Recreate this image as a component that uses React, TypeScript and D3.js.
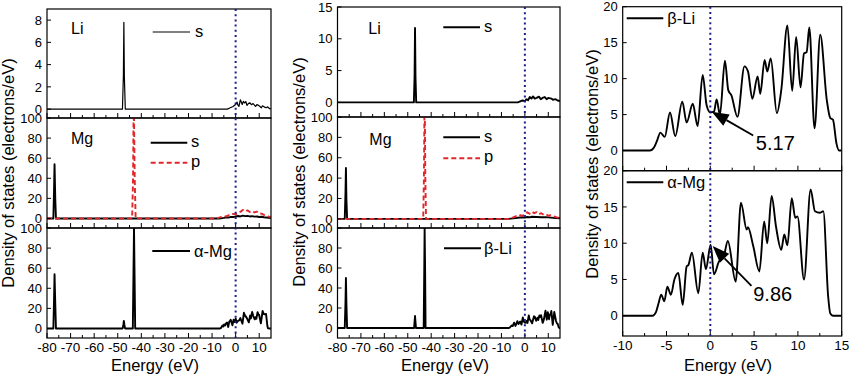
import React from 'react';
import * as d3 from 'd3';

type Pt = [number, number];

const FONT = "'Liberation Sans', Arial, Helvetica, sans-serif";
const RED = '#e3262b';
const NAVY = '#1c1c8a';

// ---------- tick values ----------
const wideTicks = [-80, -70, -60, -50, -40, -30, -20, -10, 0, 10];
const wideMinor = [-75, -65, -55, -45, -35, -25, -15, -5, 5];
const narrowTicks = [-10, -5, 0, 5, 10, 15];
const narrowMinor = [-7.5, -2.5, 2.5, 7.5, 12.5];
const liTicksLeft = [0, 2, 4, 6, 8];
const liTicksMid = [0, 5, 10, 15];
const bigTicks = [0, 20, 40, 60, 80, 100];
const dosTicks = [0, 5, 10, 15, 20];

// ---------- smoothed total DOS (right panels, also valence band of bottom-left/middle) ----------
const betaLiDOS: Pt[] = [
  [-10, 0], [-6.9, 0], [-6.5, 0.3], [-6.1, 1.3], [-5.7, 2.5], [-5.2, 1.9], [-4.6, 5.3], [-4.0, 2.0],
  [-3.2, 6.8], [-2.7, 3.9], [-2.0, 6.5], [-1.45, 3.4], [-0.87, 10.5], [-0.42, 6.3], [0, 5.3],
  [0.42, 5.4], [0.72, 7.1], [1.1, 5.0], [1.67, 12.5], [2.05, 8.4], [2.4, 7.7], [3.1, 4.7],
  [3.9, 11.7], [4.3, 11.0], [4.8, 7.2], [5.4, 10.3], [5.7, 7.9], [6.2, 12.6], [6.5, 11.0],
  [6.9, 12.8], [7.6, 5.2], [8.1, 8.4], [8.8, 17.4], [9.35, 8.3], [9.8, 15.8], [10.3, 8.8],
  [10.7, 13.5], [11.0, 13.7], [11.3, 17.1], [11.9, 3.1], [12.55, 16.1], [13.3, 7.0], [13.7, 4.5],
  [14.0, 4.3], [14.4, 1.0], [14.7, 0], [15, 0],
];

const alphaMgDOS: Pt[] = [
  [-10, 0], [-6.6, 0], [-6.2, 0.5], [-5.9, 1.75], [-5.6, 2.9], [-5.25, 2.0], [-4.9, 4.0], [-4.5, 2.9],
  [-4.1, 5.0], [-3.65, 5.9], [-3.15, 1.5], [-2.7, 6.8], [-2.5, 7.0], [-2.1, 8.7], [-1.37, 3.1],
  [-0.87, 8.7], [-0.5, 6.4], [0.04, 9.8], [0.42, 5.7], [1.0, 7.5], [1.5, 8.0], [2.0, 10.3],
  [2.9, 4.7], [3.5, 15.6], [4.15, 11.9], [4.3, 12.2], [4.9, 9.6], [5.6, 6.1], [6.15, 13.0],
  [6.5, 10.0], [7.0, 16.5], [7.5, 12.3], [8.1, 9.1], [8.45, 11.2], [8.8, 9.7], [9.3, 16.2],
  [9.7, 13.5], [9.95, 13.7], [10.7, 5.0], [11.45, 17.4], [11.95, 14.4], [12.5, 14.2],
  [12.9, 14.4], [13.45, 2.7], [13.7, 0.3], [14, 0], [15, 0],
];

// ---------- left column (alpha-Mg) ----------
const leftLiS: Pt[] = [
  [-80, 0], [-48.0, 0], [-47.6, 3], [-47.4, 7.8], [-47.2, 3], [-46.8, 0], [-3.5, 0], [-2.5, 0.1],
  [-1.1, 0.24], [0, 0.42], [0.6, 0.63], [1.0, 0.35], [1.4, 0.24], [2.0, 0.84], [2.8, 0.42],
  [3.3, 0.7], [3.8, 0.55], [4.3, 0.68], [4.8, 0.33], [5.4, 0.5], [6.0, 0.57], [6.7, 0.4],
  [7.4, 0.5], [8.0, 0.35], [8.5, 0.24], [9.0, 0.4], [9.5, 0.36], [10.2, 0.25], [10.9, 0.12],
  [11.4, 0.3], [11.9, 0.24], [12.5, 0.15], [13.0, 0.12], [13.6, 0.2], [14.4, 0.03], [15, 0.05],
];
const leftMgS: Pt[] = [
  [-80, 0], [-77.3, 0], [-77.0, 30], [-76.8, 54], [-76.5, 20], [-76.2, 0], [-7, 0], [-5, 0.6],
  [-4, 1.2], [-3, 0.9], [-2, 1.6], [-1, 1.4], [0, 2.1], [1, 2.4], [2, 2.0], [3, 2.8], [4, 2.3],
  [5, 2.6], [6, 2.0], [7, 2.3], [8, 1.8], [9, 2.0], [10, 1.5], [11, 1.7], [12, 1.2], [13, 0.9],
  [14, 0.6], [15, 0.4],
];
const leftMgP: Pt[] = [
  [-80, 0], [-43.9, 0], [-43.5, 40], [-43.3, 100], [-43.1, 100], [-42.8, 40], [-42.4, 0], [-8, 0],
  [-7, 0.8], [-6, 1.5], [-5, 2.4], [-4, 2.0], [-3, 3.2], [-2, 3.8], [-1, 4.5], [0, 4.0], [1, 5.6],
  [2, 6.5], [3, 8.5], [4, 7.0], [5, 8.0], [6, 6.5], [7, 7.5], [8, 6.0], [9, 6.8], [10, 5.0],
  [11, 4.8], [12, 3.5], [13, 3.0], [14, 1.8], [15, 1.2],
];
const leftTotalCore: Pt[] = [
  [-80, 0], [-77.3, 0], [-77.0, 30], [-76.8, 54], [-76.5, 25], [-76.2, 0], [-47.9, 0],
  [-47.6, 4], [-47.4, 7.5], [-47.2, 4], [-46.9, 0], [-43.6, 0], [-43.3, 60], [-43.1, 100],
  [-42.9, 60], [-42.6, 0],
];

// ---------- middle column (beta-Li) ----------
const midLiS: Pt[] = [
  [-80, 0], [-47.4, 0], [-47.1, 4], [-46.9, 11.7], [-46.7, 4], [-46.4, 0], [-3, 0], [-2, 0.15],
  [-1, 0.3], [0, 0.2], [0.7, 0.5], [1.4, 0.35], [2.1, 0.84], [2.8, 0.6], [3.5, 0.94], [4.2, 0.6],
  [5, 0.7], [6, 0.9], [6.8, 0.5], [7.5, 0.7], [8.5, 0.84], [9.3, 0.5], [10, 0.7], [11.3, 0.6],
  [12, 0.4], [13, 0.5], [14, 0.3], [15, 0.2],
];
const midMgS: Pt[] = [
  [-80, 0], [-76.9, 0], [-76.6, 25], [-76.4, 50], [-76.2, 20], [-75.9, 0], [-7, 0], [-5, 0.5],
  [-3, 1.0], [-1, 1.5], [0, 1.2], [1, 1.8], [2, 1.5], [3, 2.0], [5, 1.8], [7, 1.5], [9, 1.7],
  [11, 1.2], [13, 0.8], [15, 0.5],
];
const midMgP: Pt[] = [
  [-80, 0], [-43.4, 0], [-43.1, 40], [-42.9, 100], [-42.7, 100], [-42.5, 40], [-42.2, 0], [-7, 0],
  [-6, 1], [-5, 1.5], [-4, 2.5], [-3, 2], [-2, 3.5], [-1, 3], [0, 4.5], [1, 6.5], [2, 5], [3, 7],
  [4, 5.5], [5, 6.5], [6, 4.5], [7, 5.5], [8, 4], [9, 4.5], [10, 3], [11, 3.5], [12, 2.5],
  [13, 2], [14, 1.2], [15, 0.8],
];
const midTotalCore: Pt[] = [
  [-80, 0], [-76.9, 0], [-76.6, 25], [-76.4, 50], [-76.2, 25], [-75.9, 0], [-47.3, 0],
  [-47.1, 6], [-46.9, 12], [-46.7, 6], [-46.5, 0], [-43.2, 0], [-42.95, 60], [-42.8, 100],
  [-42.6, 60], [-42.4, 0],
];

// ---------- annotations ----------
const betaLiNote = { label: '5.17', tip: [0.16, 5.4] as Pt, tail: [4.9, 2.1] as Pt, text: [5.2, 0.05] as Pt };
const alphaMgNote = { label: '9.86', tip: [0.27, 9.6] as Pt, tail: [4.7, 4.1] as Pt, text: [4.9, 2.0] as Pt };

interface Series { data: Pt[]; color: string; width: number; dash?: string }

interface PanelProps {
  id: string; x0: number; x1: number; top: number; bottom: number;
  xDomain: [number, number]; yDomain: [number, number];
  xTicks: number[]; xMinor: number[]; yTicks: number[];
  showXLabels: boolean; series: Series[]; curve: d3.CurveFactory;
}

function Panel(p: PanelProps) {
  const x = d3.scaleLinear().domain(p.xDomain).range([p.x0, p.x1]);
  const y = d3.scaleLinear().domain(p.yDomain).range([p.bottom, p.top]);
  const line = d3.line<Pt>().x(d => x(d[0])).y(d => y(d[1])).curve(p.curve);
  return (
    <g>
      <clipPath id={p.id}>
        <rect x={p.x0} y={p.top} width={p.x1 - p.x0} height={p.bottom - p.top} />
      </clipPath>
      <g clipPath={`url(#${p.id})`}>
        {p.series.map((s, i) => (
          <path key={i} d={line(s.data) || ''} fill="none" stroke={s.color} strokeWidth={s.width}
            strokeDasharray={s.dash} strokeLinejoin="round" />
        ))}
      </g>
      <rect x={p.x0} y={p.top} width={p.x1 - p.x0} height={p.bottom - p.top} fill="none" stroke="#000" strokeWidth={1.2} />
      {p.xTicks.map(t => (
        <line key={'xt' + t} x1={x(t)} x2={x(t)} y1={p.bottom} y2={p.bottom - 5} stroke="#000" strokeWidth={1} />
      ))}
      {p.xMinor.map(t => (
        <line key={'xm' + t} x1={x(t)} x2={x(t)} y1={p.bottom} y2={p.bottom - 3} stroke="#000" strokeWidth={1} />
      ))}
      {p.yTicks.map(t => (
        <line key={'yt' + t} x1={p.x0} x2={p.x0 + 4} y1={y(t)} y2={y(t)} stroke="#000" strokeWidth={1} />
      ))}
      {p.yTicks.map(t => (
        <text key={'yl' + t} x={p.x0 - 5} y={y(t)} dy="0.36em" textAnchor="end" fontSize={13}>{String(t)}</text>
      ))}
      {p.showXLabels && p.xTicks.map(t => (
        <text key={'xl' + t} x={x(t)} y={p.bottom + 14} textAnchor="middle" fontSize={13.5}>{String(t)}</text>
      ))}
    </g>
  );
}

function Arrow({ from, to }: { from: [number, number]; to: [number, number] }) {
  const dx = to[0] - from[0], dy = to[1] - from[1];
  const len = Math.hypot(dx, dy);
  const ux = dx / len, uy = dy / len;
  const hl = 17, hw = 6.5;
  const bx = to[0] - ux * hl, by = to[1] - uy * hl;
  const pts = [
    [to[0], to[1]],
    [bx - uy * hw, by + ux * hw],
    [bx + uy * hw, by - ux * hw],
  ].map(q => q.join(',')).join(' ');
  return (
    <g>
      <line x1={from[0]} y1={from[1]} x2={bx} y2={by} stroke="#000" strokeWidth={1.8} />
      <polygon points={pts} fill="#000" />
    </g>
  );
}

function LegendLine({ x1, x2, y, color = '#000', width = 2, dash }: any) {
  return <line x1={x1} x2={x2} y1={y} y2={y} stroke={color} strokeWidth={width} strokeDasharray={dash} />;
}

export default function App() {
  const L = { x0: 47, x1: 271, rows: [[9, 118], [118, 228], [228, 338]] };
  const M = { x0: 337.5, x1: 560, rows: [[7, 117], [117, 228], [228, 338]] };
  const R = { x0: 622.7, x1: 841.7, rows: [[6.7, 170.7], [170.7, 336]] };
  const wide: [number, number] = [-80, 15];
  const narrow: [number, number] = [-10, 15];
  const lin = d3.curveLinear;
  const smooth = d3.curveMonotoneX;

  const xL = d3.scaleLinear().domain(wide).range([L.x0, L.x1]);
  const xM = d3.scaleLinear().domain(wide).range([M.x0, M.x1]);
  const xR = d3.scaleLinear().domain(narrow).range([R.x0, R.x1]);
  const yRtop = d3.scaleLinear().domain([-2.8, 20]).range([R.rows[0][1], R.rows[0][0]]);
  const yRbot = d3.scaleLinear().domain([-2.8, 20]).range([R.rows[1][1], R.rows[1][0]]);

  const notes = [
    { n: betaLiNote, y: yRtop },
    { n: alphaMgNote, y: yRbot },
  ];
  const dots = { stroke: NAVY, strokeWidth: 2, strokeDasharray: '2,3.2' };

  return (
    <svg width={850} height={378} style={{ position: 'absolute', left: 0, top: 0, background: '#fff' }}
      fontFamily={FONT} fill="#000">
      <rect x={0} y={0} width={850} height={378} fill="#fff" />

      {/* ---------- left column ---------- */}
      <Panel id="l0" x0={L.x0} x1={L.x1} top={L.rows[0][0]} bottom={L.rows[0][1]} xDomain={wide}
        yDomain={[-0.8, 9]} xTicks={wideTicks} xMinor={wideMinor} yTicks={liTicksLeft} showXLabels={false}
        curve={lin} series={[{ data: leftLiS, color: '#000', width: 1.2 }]} />
      <Panel id="l1" x0={L.x0} x1={L.x1} top={L.rows[1][0]} bottom={L.rows[1][1]} xDomain={wide}
        yDomain={[-9.5, 100]} xTicks={wideTicks} xMinor={wideMinor} yTicks={bigTicks} showXLabels={false}
        curve={lin} series={[
          { data: leftMgS, color: '#000', width: 1.9 },
          { data: leftMgP, color: RED, width: 1.9, dash: '5,3' },
        ]} />
      <Panel id="l2" x0={L.x0} x1={L.x1} top={L.rows[2][0]} bottom={L.rows[2][1]} xDomain={wide}
        yDomain={[-9.5, 100]} xTicks={wideTicks} xMinor={wideMinor} yTicks={bigTicks} showXLabels={true}
        curve={lin} series={[{ data: leftTotalCore.concat(alphaMgDOS), color: '#000', width: 1.9 }]} />
      <line x1={xL(0)} x2={xL(0)} y1={L.rows[0][0]} y2={L.rows[2][1]} {...dots} />

      <text x={71} y={34} fontSize={16}>Li</text>
      <LegendLine x1={152.7} x2={190} y={32} width={1.2} />
      <text x={195} y={36.5} fontSize={16.5}>s</text>
      <text x={71} y={143.5} fontSize={16}>Mg</text>
      <LegendLine x1={150.7} x2={187.3} y={142.7} />
      <text x={191} y={147} fontSize={16.5}>s</text>
      <LegendLine x1={150.7} x2={187.3} y={162.7} color={RED} dash="5,3" />
      <text x={191} y={166.5} fontSize={16.5}>p</text>
      <LegendLine x1={152.3} x2={190} y={251} />
      <text x={194} y={256.5} fontSize={16.5}>α-Mg</text>

      <text x={155} y={371} textAnchor="middle" fontSize={16.5}>Energy (eV)</text>
      <text transform="translate(14,173) rotate(-90)" textAnchor="middle" fontSize={16.5}>Density of states (electrons/eV)</text>

      {/* ---------- middle column ---------- */}
      <Panel id="m0" x0={M.x0} x1={M.x1} top={M.rows[0][0]} bottom={M.rows[0][1]} xDomain={wide}
        yDomain={[-2.3, 15]} xTicks={wideTicks} xMinor={wideMinor} yTicks={liTicksMid} showXLabels={false}
        curve={lin} series={[{ data: midLiS, color: '#000', width: 1.9 }]} />
      <Panel id="m1" x0={M.x0} x1={M.x1} top={M.rows[1][0]} bottom={M.rows[1][1]} xDomain={wide}
        yDomain={[-9, 100]} xTicks={wideTicks} xMinor={wideMinor} yTicks={bigTicks} showXLabels={false}
        curve={lin} series={[
          { data: midMgS, color: '#000', width: 1.9 },
          { data: midMgP, color: RED, width: 1.9, dash: '5,3' },
        ]} />
      <Panel id="m2" x0={M.x0} x1={M.x1} top={M.rows[2][0]} bottom={M.rows[2][1]} xDomain={wide}
        yDomain={[-10, 100]} xTicks={wideTicks} xMinor={wideMinor} yTicks={bigTicks} showXLabels={true}
        curve={lin} series={[{ data: midTotalCore.concat(betaLiDOS), color: '#000', width: 1.9 }]} />
      <line x1={xM(0)} x2={xM(0)} y1={M.rows[0][0]} y2={M.rows[2][1]} {...dots} />

      <text x={368.3} y={33.5} fontSize={16}>Li</text>
      <LegendLine x1={443.3} x2={480} y={27.3} />
      <text x={484} y={32} fontSize={16.5}>s</text>
      <text x={369.3} y={145} fontSize={16}>Mg</text>
      <LegendLine x1={443.3} x2={480} y={137.3} />
      <text x={484} y={142} fontSize={16.5}>s</text>
      <LegendLine x1={443.3} x2={480} y={158.3} color={RED} dash="5,3" />
      <text x={484} y={162} fontSize={16.5}>p</text>
      <LegendLine x1={444} x2={481} y={248.3} />
      <text x={484} y={253.5} fontSize={16.5}>β-Li</text>

      <text x={445} y={371} textAnchor="middle" fontSize={16.5}>Energy (eV)</text>
      <text transform="translate(305,172) rotate(-90)" textAnchor="middle" fontSize={16.5}>Density of states (electrons/eV)</text>

      {/* ---------- right column ---------- */}
      <Panel id="r0" x0={R.x0} x1={R.x1} top={R.rows[0][0]} bottom={R.rows[0][1]} xDomain={narrow}
        yDomain={[-2.8, 20]} xTicks={narrowTicks} xMinor={narrowMinor} yTicks={dosTicks} showXLabels={false}
        curve={smooth} series={[{ data: betaLiDOS, color: '#000', width: 1.9 }]} />
      <Panel id="r1" x0={R.x0} x1={R.x1} top={R.rows[1][0]} bottom={R.rows[1][1]} xDomain={narrow}
        yDomain={[-2.8, 20]} xTicks={narrowTicks} xMinor={narrowMinor} yTicks={dosTicks} showXLabels={true}
        curve={smooth} series={[{ data: alphaMgDOS, color: '#000', width: 1.9 }]} />
      <line x1={xR(0)} x2={xR(0)} y1={R.rows[0][0]} y2={R.rows[1][1]} {...dots} />

      <LegendLine x1={626.7} x2={663.3} y={18.3} />
      <text x={667.3} y={23.5} fontSize={16.5}>β-Li</text>
      <LegendLine x1={626.7} x2={663.3} y={182.3} />
      <text x={667.3} y={187.5} fontSize={16.5}>α-Mg</text>

      {notes.map(({ n, y }, i) => (
        <g key={i}>
          <Arrow from={[xR(n.tail[0]), y(n.tail[1])]} to={[xR(n.tip[0]), y(n.tip[1])]} />
          <text x={xR(n.text[0])} y={y(n.text[1])} fontSize={20}>{n.label}</text>
        </g>
      ))}

      <text x={728} y={371} textAnchor="middle" fontSize={16.5}>Energy (eV)</text>
      <text transform="translate(598,164) rotate(-90)" textAnchor="middle" fontSize={16.5}>Density of states (electrons/eV)</text>
    </svg>
  );
}
